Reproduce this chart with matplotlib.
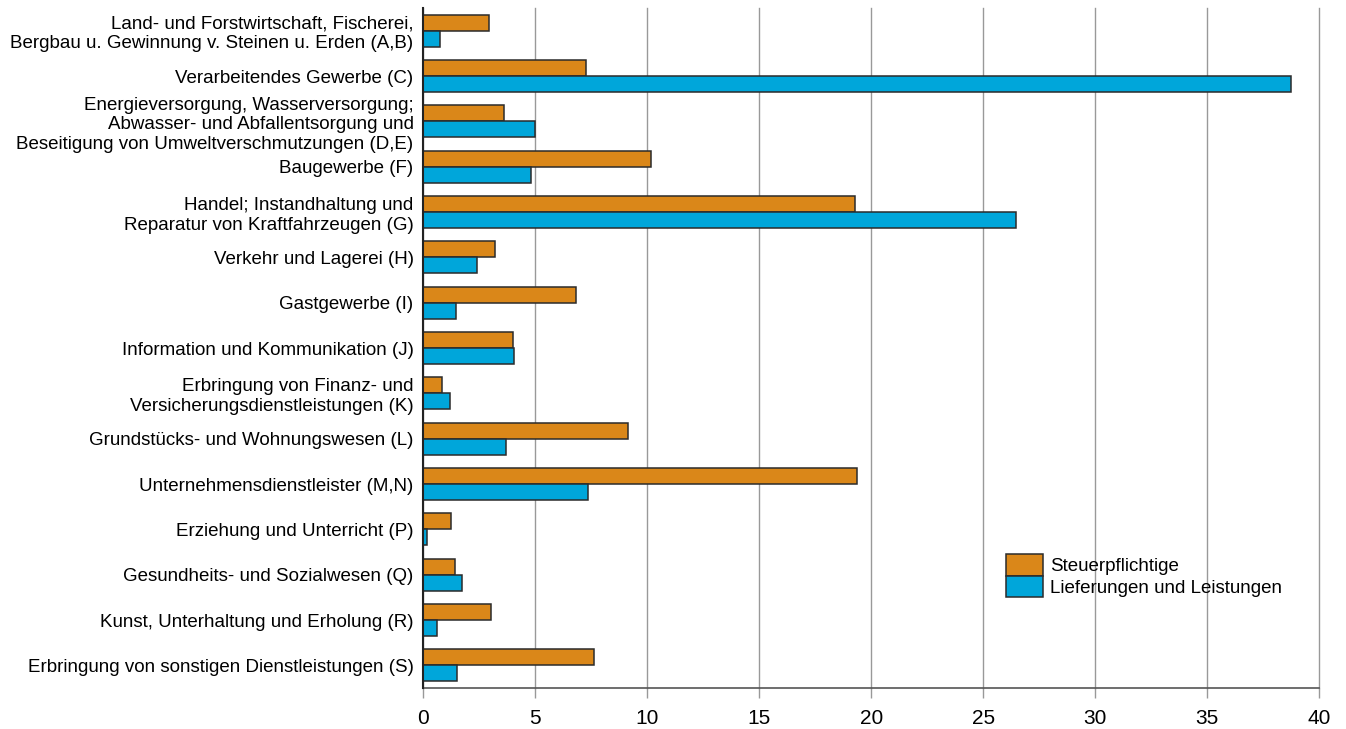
import matplotlib
matplotlib.use("Agg")
import matplotlib.pyplot as plt
import numpy as np

categories = [
    "Land- und Forstwirtschaft, Fischerei,\nBergbau u. Gewinnung v. Steinen u. Erden (A,B)",
    "Verarbeitendes Gewerbe (C)",
    "Energieversorgung, Wasserversorgung;\nAbwasser- und Abfallentsorgung und\nBeseitigung von Umweltverschmutzungen (D,E)",
    "Baugewerbe (F)",
    "Handel; Instandhaltung und\nReparatur von Kraftfahrzeugen (G)",
    "Verkehr und Lagerei (H)",
    "Gastgewerbe (I)",
    "Information und Kommunikation (J)",
    "Erbringung von Finanz- und\nVersicherungsdienstleistungen (K)",
    "Grundstücks- und Wohnungswesen (L)",
    "Unternehmensdienstleister (M,N)",
    "Erziehung und Unterricht (P)",
    "Gesundheits- und Sozialwesen (Q)",
    "Kunst, Unterhaltung und Erholung (R)",
    "Erbringung von sonstigen Dienstleistungen (S)",
]
steuerpflichtige = [2.94, 7.26, 3.61, 10.15, 19.26, 3.22, 6.84, 4.02, 0.85, 9.16, 19.35, 1.24, 1.42, 3.03, 7.63]
lieferungen = [0.75, 38.75, 4.98, 4.80, 26.46, 2.41, 1.47, 4.07, 1.21, 3.71, 7.37, 0.18, 1.73, 0.60, 1.51]
series_names = ["Steuerpflichtige", "Lieferungen und Leistungen"]
xticks = [0, 5, 10, 15, 20, 25, 30, 35, 40]

plt.rcParams['font.family'] = ['Liberation Sans', 'DejaVu Sans']

fig = plt.figure(figsize=(13.46, 7.29), dpi=100)
ax = fig.add_axes([0.3145, 0.0562, 0.6655, 0.9328])

y = np.arange(len(categories))
h = 0.355
orange = "#DA8719"
blue = "#00A6DA"
edge = "#2b2b2b"
ax.barh(y - h / 2, steuerpflichtige, height=h, color=orange, edgecolor=edge, linewidth=1.1,
        label=series_names[0], zorder=3)
ax.barh(y + h / 2, lieferungen, height=h, color=blue, edgecolor=edge, linewidth=1.1,
        label=series_names[1], zorder=3)

ax.set_ylim(len(categories) - 0.5, -0.5)
ax.set_xlim(0, 40)
ax.set_xticks(xticks)
ax.set_xticklabels([str(t) for t in xticks], fontsize=15)
ax.set_yticks(y)
ax.set_yticklabels(categories, fontsize=13.5, linespacing=1.2)
ax.tick_params(axis='y', length=0, pad=7)
ax.tick_params(axis='x', length=7, color="#999999", width=1, pad=8)

ax.grid(axis='x', color="#999999", linewidth=1, zorder=0)
for gl in ax.get_xgridlines():
    gl.set_clip_on(False)
for s in ["top", "right"]:
    ax.spines[s].set_visible(False)
ax.spines["left"].set_color("#222222")
ax.spines["left"].set_linewidth(1.5)
ax.spines["left"].set_zorder(4)
ax.spines["bottom"].set_color("#555555")
ax.spines["bottom"].set_linewidth(1.2)

leg = ax.legend(loc="upper left", bbox_to_anchor=(0.650, 0.197), frameon=False,
                fontsize=13.5, handlelength=1.97, handleheight=1.39, labelspacing=0,
                handletextpad=0.38, borderpad=0, borderaxespad=0)
for p in leg.get_patches():
    p.set_linewidth(1.1)

fig.savefig("out.png", dpi=100)
